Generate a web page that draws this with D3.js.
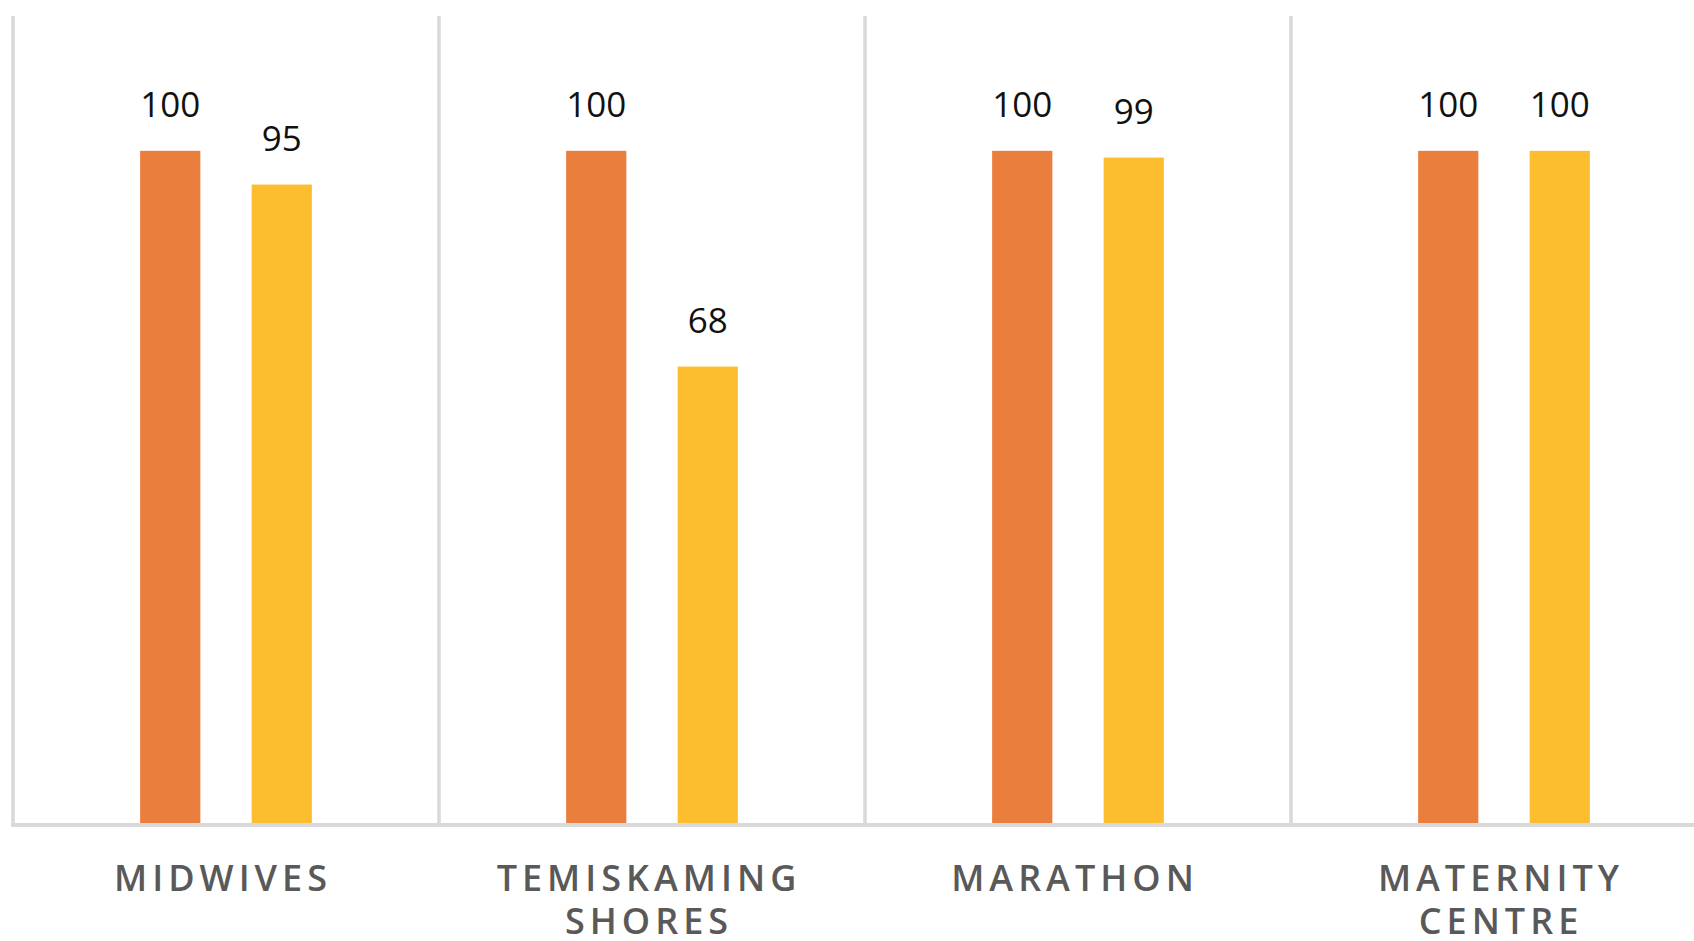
<!DOCTYPE html>
<html>
<head>
<meta charset="utf-8">
<script src="https://cdn.jsdelivr.net/npm/d3@7/dist/d3.min.js"></script>
<style>
  html, body { margin: 0; padding: 0; background: #ffffff; overflow: hidden; }
  svg { display: block; }
</style>
</head>
<body>
<svg id="chart" width="1694" height="941"></svg>
<script>
// ---- data ----
const categories = ["MIDWIVES", "TEMISKAMING SHORES", "MARATHON", "MATERNITY CENTRE"];
const categoryLines = [["MIDWIVES"], ["TEMISKAMING", "SHORES"], ["MARATHON"], ["MATERNITY", "CENTRE"]];
const seriesNames = ["Series 1", "Series 2"];
const series1 = [100, 100, 100, 100];
const series2 = [95, 68, 99, 100];
const yDomain = [0, 120];

// ---- layout ----
const W = 1694, H = 941;
const plotLeft = 13, bandW = 426, plotTop = 16, plotBottom = 825;
const colors = ["#EA7E3C", "#FCBE2E"];

const svg = d3.select("#chart");

const x0 = d3.scaleBand()
  .domain(categories)
  .range([plotLeft, plotLeft + bandW * categories.length])
  .paddingInner(0).paddingOuter(0);

const x1 = d3.scaleBand()
  .domain(seriesNames)
  .range([0, x0.bandwidth()])
  .paddingInner(0.46)
  .paddingOuter(1.14)
  .align(0.5);

const y = d3.scaleLinear().domain(yDomain).range([plotBottom, plotTop]);

// vertical separators
const seps = categories.map(c => x0(c));
svg.append("g").selectAll("line").data(seps).join("line")
  .attr("x1", d => d).attr("x2", d => d)
  .attr("y1", y(yDomain[1])).attr("y2", plotBottom)
  .attr("stroke", "#d9d9d9").attr("stroke-width", 3.5);

// bars
const rows = categories.map((c, i) => ({ cat: c, vals: [series1[i], series2[i]] }));
const groups = svg.append("g").selectAll("g").data(rows).join("g")
  .attr("transform", d => `translate(${x0(d.cat)},0)`);

groups.selectAll("rect")
  .data(d => d.vals.map((v, j) => ({ s: seriesNames[j], v, j })))
  .join("rect")
  .attr("x", d => x1(d.s))
  .attr("width", x1.bandwidth())
  .attr("y", d => y(d.v))
  .attr("height", d => plotBottom - y(d.v))
  .attr("fill", d => colors[d.j]);

groups.selectAll("text.val")
  .data(d => d.vals.map((v, j) => ({ s: seriesNames[j], v, j })))
  .join("text")
  .attr("class", "val")
  .attr("x", d => x1(d.s) + x1.bandwidth() / 2)
  .attr("y", d => y(d.v) - 34)
  .attr("text-anchor", "middle")
  .attr("font-family", "'Open Sans', sans-serif")
  .attr("font-size", 35)
  .attr("fill", "#111111")
  .text(d => d.v);

// x axis line
svg.append("line")
  .attr("x1", plotLeft - 2).attr("x2", W)
  .attr("y1", plotBottom).attr("y2", plotBottom)
  .attr("stroke", "#d9d9d9").attr("stroke-width", 4);

// category labels
const labelX = d => x0(d) + x0.bandwidth() / 2 - 3;
const lab = svg.append("g").selectAll("text").data(categories).join("text")
  .attr("x", labelX)
  .attr("y", 891)
  .attr("text-anchor", "middle")
  .attr("font-family", "'Open Sans', sans-serif")
  .attr("font-size", 36)
  .attr("font-weight", 600)
  .attr("letter-spacing", 5)
  .attr("fill", "#595959");

lab.each(function(d, i) {
  const t = d3.select(this);
  categoryLines[i].forEach((ln, k) => {
    t.append("tspan")
      .attr("x", labelX(d))
      .attr("dy", k === 0 ? 0 : 43)
      .text(ln);
  });
});
</script>
</body>
</html>
